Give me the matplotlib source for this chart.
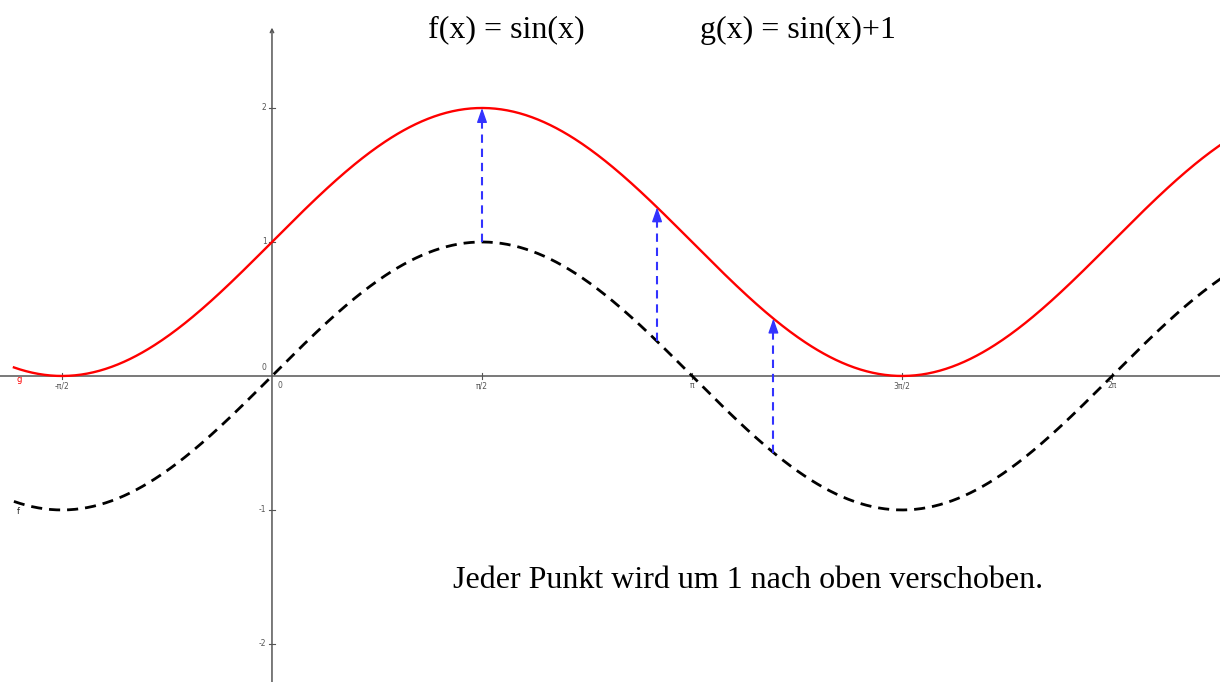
import numpy as np
import matplotlib.pyplot as plt

# function graphs f(x) = sin(x) and g(x) = sin(x) + 1
x = np.linspace(-1.93, 7.2, 800)
f_vals = np.sin(x)
g_vals = np.sin(x) + 1

# points where the upward shift is shown
shift_x = [np.pi / 2, 2.88, 3.75]
shift = 1

x_ticks = [-np.pi / 2, np.pi / 2, np.pi, 3 * np.pi / 2, 2 * np.pi]
x_tick_labels = ["-π/2", "π/2", "π", "3π/2", "2π"]
y_ticks = [-2, -1, 1, 2]
y_tick_labels = ["-2", "-1", "1", "2"]

axis_col = "#555555"
label_col = "#555555"
arrow_col = "#3333ff"

fig = plt.figure(figsize=(12.2, 6.82), dpi=100)
ax = fig.add_axes([0, 0, 1, 1])
ax.set_xlim(-2.034, 7.09)
ax.set_ylim(-2.284, 2.806)

for s in ax.spines.values():
    s.set_visible(False)
ax.set_xticks([])
ax.set_yticks([])

# axes through the origin
ax.axhline(0, color=axis_col, lw=1.1, zorder=1)
ax.annotate("", xy=(0, 2.6), xytext=(0, -2.3),
            arrowprops=dict(arrowstyle="->", color=axis_col, lw=1.1,
                            mutation_scale=6, shrinkA=0, shrinkB=0), zorder=1)

for t, lab in zip(x_ticks, x_tick_labels):
    ax.plot([t, t], [-0.02, 0.02], color=axis_col, lw=0.8, zorder=1)
    ax.text(t, -0.04, lab, ha="center", va="top", fontsize=5.5, color=label_col)
for t, lab in zip(y_ticks, y_tick_labels):
    ax.plot([-0.02, 0.02], [t, t], color=axis_col, lw=0.8, zorder=1)
    ax.text(-0.04, t, lab, ha="right", va="center", fontsize=5.5, color=label_col)
ax.text(-0.04, 0.03, "0", ha="right", va="bottom", fontsize=5.5, color=label_col)
ax.text(0.04, -0.04, "0", ha="left", va="top", fontsize=5.5, color=label_col)

# curves
ax.plot(x, f_vals, color="black", lw=2, dashes=(4, 2.5), zorder=3)
ax.plot(x, g_vals, color="#ff0000", lw=1.7, zorder=3)
ax.text(-1.89, -0.025, "g", color="#ff0000", fontsize=6, ha="center", va="center")
ax.text(-1.9, -1.015, "f", color="#222222", fontsize=6, ha="center", va="center")

# shift arrows: dashed shaft plus a solid head
for sx in shift_x:
    y0 = np.sin(sx)
    ax.plot([sx, sx], [y0, y0 + shift - 0.05], color=arrow_col, lw=1.5,
            dashes=(4, 2.8), zorder=4)
    ax.annotate("", xy=(sx, y0 + shift), xytext=(sx, y0 + shift - 0.1),
                arrowprops=dict(arrowstyle="-|>,head_length=0.8,head_width=0.28",
                                color=arrow_col, lw=1.0, mutation_scale=11,
                                shrinkA=0, shrinkB=0), zorder=4)

fig.text(428 / 1220, 1 - 30 / 682, "f(x) = sin(x)", family="Liberation Serif",
         fontsize=23, ha="left", va="center")
fig.text(700 / 1220, 1 - 30 / 682, "g(x) = sin(x)+1", family="Liberation Serif",
         fontsize=23, ha="left", va="center")
fig.text(453 / 1220, 1 - 580 / 682, "Jeder Punkt wird um 1 nach oben verschoben.",
         family="Liberation Serif", fontsize=23, ha="left", va="center")

fig.savefig("out.png", dpi=100)
